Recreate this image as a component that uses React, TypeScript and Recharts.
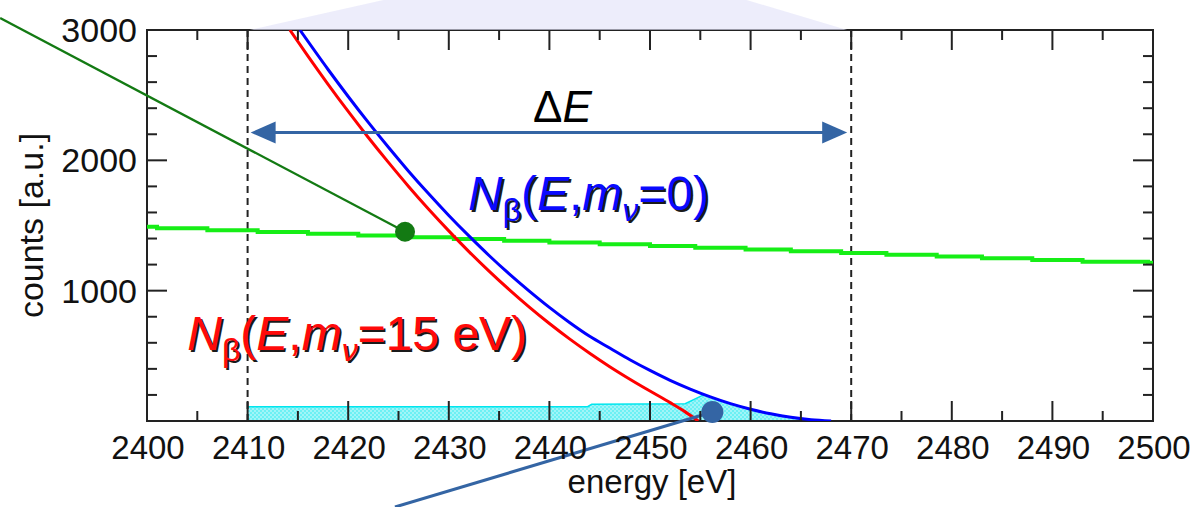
import React from 'react';
import {
  ComposedChart,
  Line,
  Area,
  XAxis,
  YAxis,
  ReferenceLine,
  ReferenceDot,
  ReferenceArea,
} from 'recharts';

const W = 1200;
const H = 507;
const Y_AXIS_W = 147;
const X_AXIS_H = 86;
const MARGIN = { top: 30, right: 47, bottom: 0, left: 0 };
const PLOT_W = W - Y_AXIS_W - MARGIN.right;
const PLOT_H = H - MARGIN.top - X_AXIS_H;

const FONT = '"Liberation Sans", Arial, sans-serif';
const AXIS_COLOR = '#222';
const ARROW_BLUE = '#3465a4';
const DOT_GREEN = '#137a13';

// axis ticks (minor every 5 eV / 200 counts, labels on the majors)
const X_TICKS = [2400, 2405, 2410, 2415, 2420, 2425, 2430, 2435, 2440, 2445, 2450, 2455, 2460, 2465, 2470, 2475, 2480, 2485, 2490, 2495, 2500];
const Y_TICKS = [0, 200, 400, 600, 800, 1000, 1200, 1400, 1600, 1800, 2000, 2200, 2400, 2600, 2800, 3000];
const Y_LABELS = [1000, 2000, 3000];

// N_beta(E, m_nu = 0)
const E_M0 = [2415.2, 2418, 2420, 2422, 2424, 2426, 2428, 2430, 2432, 2434, 2436, 2438, 2440, 2442, 2444, 2446, 2448, 2450, 2452, 2454, 2456, 2458, 2460, 2462, 2464, 2466, 2468];
const N_M0 = [3000, 2697, 2490, 2291, 2100, 1917, 1743, 1577, 1420, 1270, 1129, 997, 872, 756, 650, 560, 470, 388, 312, 245, 185, 133, 90, 55, 28, 10, 0];

// N_beta(E, m_nu = 15 eV)
const E_M15 = [2414.2, 2416, 2418, 2420, 2422, 2424, 2426, 2428, 2430, 2432, 2434, 2436, 2438, 2440, 2442, 2444, 2446, 2448, 2450, 2452, 2453.5, 2454.8];
const N_M15 = [3000, 2799, 2583, 2375, 2175, 1984, 1800, 1625, 1459, 1300, 1150, 1008, 874, 748, 630, 520, 417, 321, 230, 141, 70, 0];

// flat background (green, binned)
const E_BG = [2400, 2401, 2406, 2411, 2416, 2421, 2425.5, 2430.5, 2435.5, 2440, 2445, 2450, 2454.5, 2459.5, 2464, 2469, 2473.5, 2478.5, 2483, 2488, 2493, 2499.5, 2500];
const N_BG = [1490, 1478, 1464, 1451, 1437, 1424, 1410, 1397, 1383, 1370, 1356, 1343, 1329, 1316, 1302, 1289, 1275, 1262, 1248, 1235, 1221, 1215, 1215];

// shaded region inside the analysis window
const E_SHADE = [2410, 2443.8, 2444.2, 2453.5, 2455.3, 2456, 2458, 2460, 2462, 2464, 2466, 2468];
const N_SHADE = [110, 110, 128, 132, 200, 185, 133, 90, 55, 28, 10, 0];

// annotations (data coordinates)
const WINDOW = [2410, 2470];
const ARROW_Y = 2213;
const ARROW_X = [2410.3, 2469.6];
const DELTA_E_POS = { x: 2441.3, y: 2294 };
const GREEN_DOT = { x: 2425.65, y: 1452 };
const GREEN_FROM = { x: 2385.4, y: 3092 };
const BLUE_DOT = { x: 2456.2, y: 69 };
const BLUE_FROM = { x: 2424.65, y: -660 };
const LABEL_M0 = { x: 2431.9, y: 1619, text: '=0)' };
const LABEL_M15 = { x: 2404.0, y: 545, text: '=15 eV)' };
// light beam above the frame: base x range, top x range, top y
const BEAM_BASE = [2410.2, 2469.6];
const BEAM_TOP = [2423.5, 2459.6];
const BEAM_TOP_Y = 3230;

const zip = (xs: number[], ys: number[]) => xs.map((e, i) => ({ e, n: ys[i] }));
const m0Data = zip(E_M0, N_M0);
const m15Data = zip(E_M15, N_M15);
const bgData = zip(E_BG, N_BG);
const shadeData = zip(E_SHADE, N_SHADE);

const XTick = (props: any) => {
  const { x, y, payload } = props;
  const v = payload.value;
  const major = v % 10 === 0;
  const len = major ? 20 : 10;
  return (
    <g>
      <line x1={x} y1={y} x2={x} y2={y - len} stroke={AXIS_COLOR} strokeWidth={2} />
      <line x1={x} y1={y - PLOT_H} x2={x} y2={y - PLOT_H + len} stroke={AXIS_COLOR} strokeWidth={2} />
      {major && (
        <text x={x + 1} y={y + 38} textAnchor="middle" fontSize={33} fontFamily={FONT} fill="#111">
          {v}
        </text>
      )}
    </g>
  );
};

const YTick = (props: any) => {
  const { x, y, payload } = props;
  const v = payload.value;
  if (v === 0) return <g />;
  const major = v % 1000 === 0;
  const len = major ? 20 : 10;
  return (
    <g>
      <line x1={x} y1={y} x2={x + len} y2={y} stroke={AXIS_COLOR} strokeWidth={2} />
      <line x1={x + PLOT_W} y1={y} x2={x + PLOT_W - len} y2={y} stroke={AXIS_COLOR} strokeWidth={2} />
      {Y_LABELS.includes(v) && (
        <text x={x - 10} y={y + 12} textAnchor="end" fontSize={34} fontFamily={FONT} fill="#111">
          {v}
        </text>
      )}
    </g>
  );
};

const XTitle = (props: any) => {
  const vb = props.viewBox;
  return (
    <text x={vb.x + vb.width / 2 + 2} y={vb.y + 72} textAnchor="middle" fontSize={33} fontFamily={FONT} fill="#111">
      energy [eV]
    </text>
  );
};

const YTitle = (props: any) => {
  const vb = props.viewBox;
  const cx = vb.x + 43;
  const cy = vb.y + vb.height / 2;
  return (
    <text x={cx} y={cy} textAnchor="middle" fontSize={34} fontFamily={FONT} fill="#111" transform={`rotate(-90, ${cx}, ${cy})`}>
      counts [a.u.]
    </text>
  );
};

const spectrumLabel = (color: string, tail: string) => (props: any) => {
  const { cx, cy } = props;
  const body = (fill: string, d: number) => (
    <text x={cx + d} y={cy + d} fill={fill} fontSize={48} fontFamily={FONT}>
      <tspan fontStyle="italic">N</tspan>
      <tspan fontSize={32} dy={11}>β</tspan>
      <tspan dy={-11}>(</tspan>
      <tspan fontStyle="italic">E</tspan>
      <tspan>,</tspan>
      <tspan fontStyle="italic">m</tspan>
      <tspan fontSize={32} fontStyle="italic" dy={11}>ν</tspan>
      <tspan dy={-11}>{tail}</tspan>
    </text>
  );
  return (
    <g>
      {body('#1a1a1a', 2)}
      {body(color, 0)}
    </g>
  );
};

const DeltaE = (props: any) => (
  <text x={props.cx} y={props.cy} textAnchor="middle" fontSize={44} fontFamily={FONT} fill="#000">
    Δ<tspan fontStyle="italic">E</tspan>
  </text>
);

const DoubleArrow = (props: any) => {
  const { x1, y1, x2, y2 } = props;
  const L = 25;
  const hw = 11;
  return (
    <g>
      <line x1={x1 + L - 2} y1={y1} x2={x2 - L + 2} y2={y2} stroke={ARROW_BLUE} strokeWidth={3} />
      <polygon points={`${x1},${y1} ${x1 + L},${y1 - hw} ${x1 + L},${y1 + hw}`} fill={ARROW_BLUE} />
      <polygon points={`${x2},${y2} ${x2 - L},${y2 - hw} ${x2 - L},${y2 + hw}`} fill={ARROW_BLUE} />
    </g>
  );
};

const Beam = (props: any) => {
  const { x, y, width, height } = props;
  const span = BEAM_BASE[1] - BEAM_BASE[0];
  const l = x + ((BEAM_TOP[0] - BEAM_BASE[0]) / span) * width;
  const r = x + ((BEAM_TOP[1] - BEAM_BASE[0]) / span) * width;
  return (
    <polygon
      points={`${x},${y + height} ${l},${y} ${r},${y} ${x + width},${y + height}`}
      fill="rgb(226,226,249)"
      fillOpacity={0.62}
    />
  );
};

export default function App() {
  return (
    <div style={{ position: 'absolute', left: 0, top: 0, width: W, height: H, background: '#fff' }}>
      <ComposedChart width={W} height={H} margin={MARGIN}>
        <defs>
          <pattern id="stipple" width="4" height="4" patternUnits="userSpaceOnUse">
            <rect width="4" height="4" fill="#6cf0f4" />
            <circle cx="1" cy="1" r="0.8" fill="#e2fdfe" />
            <circle cx="3" cy="3" r="0.8" fill="#e2fdfe" />
          </pattern>
        </defs>
        <XAxis
          type="number"
          dataKey="e"
          domain={[2400, 2500]}
          allowDataOverflow
          ticks={X_TICKS}
          interval={0}
          tick={<XTick />}
          tickLine={false}
          axisLine={false}
          tickSize={0}
          tickMargin={0}
          height={X_AXIS_H}
          label={XTitle}
        />
        <YAxis
          type="number"
          domain={[0, 3000]}
          allowDataOverflow
          ticks={Y_TICKS}
          interval={0}
          tick={<YTick />}
          tickLine={false}
          axisLine={false}
          tickSize={0}
          tickMargin={0}
          width={Y_AXIS_W}
          label={YTitle}
        />
        <Area
          data={shadeData}
          dataKey="n"
          type="linear"
          stroke="#00e6ee"
          strokeWidth={1.5}
          fill="url(#stipple)"
          fillOpacity={1}
          isAnimationActive={false}
          dot={false}
          activeDot={false}
        />
        {WINDOW.map((x) => (
          <ReferenceLine key={x} x={x} stroke="#222" strokeWidth={2} strokeDasharray="7 5" />
        ))}
        <Line data={bgData} dataKey="n" type="stepAfter" stroke="#16ee16" strokeWidth={4} dot={false} activeDot={false} isAnimationActive={false} />
        <Line data={m15Data} dataKey="n" type="monotone" stroke="#ff0000" strokeWidth={3} dot={false} activeDot={false} isAnimationActive={false} />
        <Line data={m0Data} dataKey="n" type="monotone" stroke="#0000ff" strokeWidth={3} dot={false} activeDot={false} isAnimationActive={false} />
        <ReferenceArea x1={2400} x2={2500} y1={0} y2={3000} fill="none" fillOpacity={0} stroke={AXIS_COLOR} strokeWidth={2} />
        <ReferenceLine segment={[GREEN_FROM, GREEN_DOT]} stroke={DOT_GREEN} strokeWidth={2.3} ifOverflow="visible" />
        <ReferenceLine segment={[BLUE_FROM, BLUE_DOT]} stroke={ARROW_BLUE} strokeWidth={3} ifOverflow="visible" />
        <ReferenceDot x={GREEN_DOT.x} y={GREEN_DOT.y} r={10} fill={DOT_GREEN} stroke="none" />
        <ReferenceDot x={BLUE_DOT.x} y={BLUE_DOT.y} r={11} fill={ARROW_BLUE} stroke="none" />
        <ReferenceLine
          segment={[{ x: ARROW_X[0], y: ARROW_Y }, { x: ARROW_X[1], y: ARROW_Y }]}
          shape={DoubleArrow}
          ifOverflow="visible"
        />
        <ReferenceDot x={DELTA_E_POS.x} y={DELTA_E_POS.y} r={0} shape={DeltaE} />
        <ReferenceDot x={LABEL_M0.x} y={LABEL_M0.y} r={0} shape={spectrumLabel('#0a0aff', LABEL_M0.text)} />
        <ReferenceDot x={LABEL_M15.x} y={LABEL_M15.y} r={0} shape={spectrumLabel('#ff0a0a', LABEL_M15.text)} />
        <ReferenceArea
          x1={BEAM_BASE[0]}
          x2={BEAM_BASE[1]}
          y1={3000}
          y2={BEAM_TOP_Y}
          ifOverflow="visible"
          shape={Beam}
        />
      </ComposedChart>
    </div>
  );
}
